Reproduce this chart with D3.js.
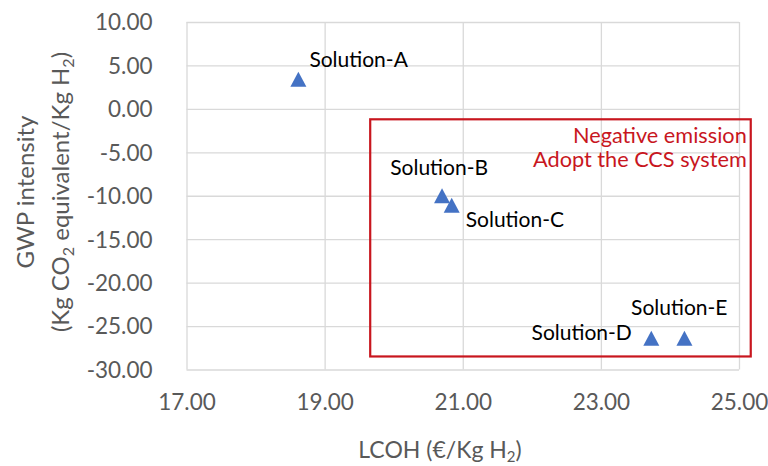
<!DOCTYPE html>
<html>
<head>
<meta charset="utf-8">
<script src="https://cdn.jsdelivr.net/npm/d3@7"></script>
<style>
  html, body { margin: 0; padding: 0; background: #fff; }
  svg { display: block; }
  text { font-family: Lato, "Open Sans", sans-serif; }
</style>
</head>
<body>
<svg id="chart" width="768" height="466"></svg>
<script>
// LCOH vs GWP intensity for the five hydrogen production solutions
const solutions = ["Solution-A", "Solution-B", "Solution-C", "Solution-D", "Solution-E"];
const lcoh = [18.62, 20.70, 20.84, 23.73, 24.21];
const gwp = [3.4, -10.0, -11.1, -26.4, -26.4];
const xTicks = [17, 19, 21, 23, 25];
const yTicks = [10, 5, 0, -5, -10, -15, -20, -25, -30];
const boxNote = ["Negative emission", "Adopt the CCS system"];

const plot = { left: 186.5, right: 739, top: 22, bottom: 369.5 };

const svg = d3.select("#chart");

const x = d3.scaleLinear().domain([17, 25]).range([plot.left, plot.right]);
const y = d3.scaleLinear().domain([-30, 10]).range([plot.bottom, plot.top]);

const grid = "#d9d9d9";
const tickColor = "#595959";
// two decimals with a plain hyphen for negatives
const fmt = v => d3.format(".2f")(v).replace("\u2212", "-");

// Gridlines (both directions), no axis domain lines
const xAxis = d3.axisBottom(x).tickValues(xTicks)
  .tickSize(-(plot.bottom - plot.top)).tickPadding(25)
  .tickFormat(fmt);
const yAxis = d3.axisLeft(y).tickValues(yTicks)
  .tickSize(-(plot.right - plot.left)).tickPadding(34)
  .tickFormat(fmt);

const gx = svg.append("g").attr("transform", `translate(0,${plot.bottom})`).call(xAxis);
const gy = svg.append("g").attr("transform", `translate(${plot.left},0)`).call(yAxis);
[gx, gy].forEach(g => {
  g.select(".domain").remove();
  g.selectAll(".tick line").attr("stroke", grid).attr("stroke-width", 1.3);
  g.selectAll(".tick text")
    .attr("fill", tickColor)
    .style("font-size", "22.5px")
    .style("font-family", "Lato, sans-serif");
});
gy.selectAll(".tick text").attr("dy", "0.35em");
gx.selectAll(".tick text").attr("dy", "0.71em");

// Axis titles
const xTitle = svg.append("text")
  .attr("x", 440).attr("y", 458)
  .attr("text-anchor", "middle")
  .attr("fill", tickColor)
  .style("font-size", "23px");
xTitle.append("tspan").text("LCOH (€/Kg H");
xTitle.append("tspan").text("2").style("font-size", "15px").attr("dy", 4);
xTitle.append("tspan").text(")").attr("dy", -4);

const yTitle = svg.append("g")
  .attr("transform", "translate(0,192) rotate(-90)");
yTitle.append("text")
  .attr("x", 0).attr("y", 34)
  .attr("text-anchor", "middle")
  .attr("fill", tickColor)
  .style("font-size", "24px")
  .text("GWP intensity");
const yt2 = yTitle.append("text")
  .attr("x", 0).attr("y", 69)
  .attr("text-anchor", "middle")
  .attr("fill", tickColor)
  .style("font-size", "24px");
yt2.append("tspan").text("(Kg CO");
yt2.append("tspan").text("2").style("font-size", "16px").attr("dy", 5);
yt2.append("tspan").text(" equivalent/Kg H").attr("dy", -5);
yt2.append("tspan").text("2").style("font-size", "16px").attr("dy", 5);
yt2.append("tspan").text(")").attr("dy", -5);

// Annotation box around the negative-emission solutions
const boxX = [19.66, 25.17];
const boxY = [-1.2, -28.5];
const red = "#c8161e";
svg.append("rect")
  .attr("x", x(boxX[0])).attr("y", y(boxY[0]))
  .attr("width", x(boxX[1]) - x(boxX[0]))
  .attr("height", y(boxY[1]) - y(boxY[0]))
  .attr("fill", "none").attr("stroke", red).attr("stroke-width", 2.2);
svg.append("g").selectAll("text").data(boxNote).join("text")
  .attr("x", x(boxX[1]) - 4)
  .attr("y", (d, i) => y(boxY[0]) + 24 + i * 23.5)
  .attr("text-anchor", "end")
  .attr("fill", red)
  .style("font-size", "21.7px")
  .text(d => d);

// Triangle markers, centred on the bounding box like spreadsheet markers
const tri = d3.path();
tri.moveTo(0, -7.5); tri.lineTo(8, 7.5); tri.lineTo(-8, 7.5); tri.closePath();

const pts = solutions.map((s, i) => ({ name: s, lcoh: lcoh[i], gwp: gwp[i] }));
svg.append("g").selectAll("path").data(pts).join("path")
  .attr("d", tri.toString())
  .attr("transform", d => `translate(${x(d.lcoh)},${y(d.gwp)})`)
  .attr("fill", "#4472c4");

// Data labels
const labelPos = {
  "Solution-A": { dx: 11, dy: -12, anchor: "start" },
  "Solution-B": { dx: 46, dy: -21, anchor: "end" },
  "Solution-C": { dx: 14, dy: 21.5, anchor: "start" },
  "Solution-D": { dx: -19.5, dy: 2, anchor: "end" },
  "Solution-E": { dx: 43, dy: -23, anchor: "end" }
};
svg.append("g").selectAll("text").data(pts).join("text")
  .attr("x", d => x(d.lcoh) + labelPos[d.name].dx)
  .attr("y", d => y(d.gwp) + labelPos[d.name].dy)
  .attr("text-anchor", d => labelPos[d.name].anchor)
  .attr("fill", "#000")
  .style("font-size", "21px")
  .text(d => d.name);
</script>
</body>
</html>
